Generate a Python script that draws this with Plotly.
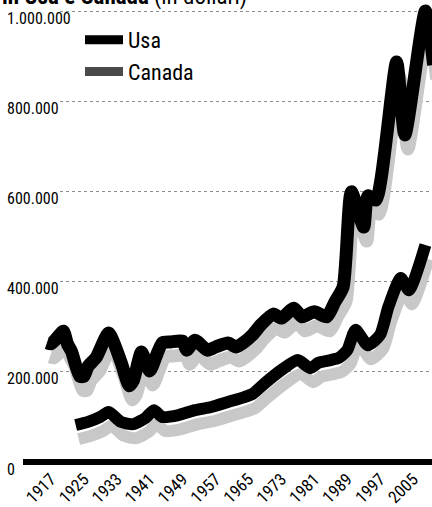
import plotly.graph_objects as go

# ---------------- data ----------------
usa_years = [1916, 1917, 1918, 1920, 1921, 1922, 1924, 1925, 1926, 1928, 1931, 1934,
             1936, 1937, 1939, 1941, 1944, 1946, 1949, 1950, 1952, 1955, 1957, 1960,
             1962, 1964, 1966, 1968, 1971, 1973, 1976, 1978, 1981, 1984, 1986, 1988,
             1990, 1993, 1994, 1996, 2001, 2003, 2008, 2010]
usa_values = [264000, 262000, 270000, 290000, 262000, 245000, 190000, 190000, 212000,
              232000, 286000, 222000, 169000, 180000, 244000, 202000, 264000, 266000,
              268000, 248000, 270000, 248000, 255000, 264000, 255000, 266000, 282000,
              304000, 328000, 319000, 341000, 322000, 333000, 322000, 355000, 388000,
              599000, 521000, 590000, 581000, 887000, 725000, 1000000, 880000]

canada_years = [1923, 1926, 1929, 1931, 1934, 1937, 1940, 1942, 1944, 1948, 1952, 1956,
                1960, 1964, 1966, 1969, 1973, 1977, 1980, 1982, 1985, 1987, 1989, 1991,
                1994, 1997, 1999, 2002, 2004, 2008]
canada_values = [82000, 89000, 100000, 111000, 89000, 84000, 98000, 115000, 100000,
                 104000, 115000, 122000, 133000, 144000, 151000, 175000, 204000, 226000,
                 208000, 220000, 226000, 231000, 248000, 293000, 259000, 282000, 344000,
                 408000, 381000, 481000]

series_names = ["Usa", "Canada"]
x_tick_years = [1917, 1925, 1933, 1941, 1949, 1957, 1965, 1973, 1981, 1989, 1997, 2005]
y_tick_values = [0, 200000, 400000, 600000, 800000, 1000000]
title_bold = "in Usa e Canada"
title_rest = "(in dollari)"

# ---------------- layout geometry / style ----------------
W, H = 432, 507
B = 45
PH = H - B
X_RANGE = [1910.2, 2009.6]
Y_RANGE = [0, 1e6 * PH / (PH - 11)]
PLOT_L = 23
GRID_L = 60
SH_DX, SH_DY = 3, 14
FONT = "Liberation Sans Narrow, Arial Narrow, Roboto Condensed, sans-serif"

px_x = (W - PLOT_L) / (X_RANGE[1] - X_RANGE[0])
px_y = PH / (Y_RANGE[1] - Y_RANGE[0])
shadow_x = [X_RANGE[0] - SH_DX / px_x, X_RANGE[1] - SH_DX / px_x]
shadow_y = [Y_RANGE[0] + SH_DY / px_y, Y_RANGE[1] + SH_DY / px_y]

fig = go.Figure()

# grid subplot (empty)
fig.add_trace(go.Scatter(x=[], y=[], xaxis="x", yaxis="y", showlegend=False,
                         hoverinfo="skip"))

# shadows
for yrs, vals, w in [(usa_years, usa_values, 13), (canada_years, canada_values, 12)]:
    fig.add_trace(go.Scatter(x=yrs, y=vals, xaxis="x2", yaxis="y2", mode="lines",
                             line=dict(color="#c8c8c8", width=w, shape="spline",
                                       smoothing=0.6),
                             showlegend=False, hoverinfo="skip"))

# main lines
for yrs, vals, w, name in [(usa_years, usa_values, 13, series_names[0]),
                           (canada_years, canada_values, 12, series_names[1])]:
    fig.add_trace(go.Scatter(x=yrs, y=vals, xaxis="x3", yaxis="y3", mode="lines",
                             name=name,
                             line=dict(color="#000000", width=w, shape="spline",
                                       smoothing=0.6),
                             showlegend=False))

# legend entries
for name, col in zip(series_names, ["#000000", "#4a4a4a"]):
    fig.add_trace(go.Scatter(x=[None], y=[None], xaxis="x3", yaxis="y3", mode="lines",
                             name=name, line=dict(color=col, width=9)))

fig.update_layout(
    width=W, height=H,
    margin=dict(l=0, r=0, t=0, b=B, pad=0),
    paper_bgcolor="white", plot_bgcolor="rgba(0,0,0,0)",
    separators=",.",
    font=dict(family=FONT, color="black", size=16),
    showlegend=True,
    legend=dict(x=80 / W, y=1 - 19 / PH, xanchor="left", yanchor="top",
                bgcolor="rgba(0,0,0,0)", font=dict(size=22, family=FONT),
                itemwidth=38, tracegroupgap=0),
    xaxis=dict(domain=[GRID_L / W, 1], range=X_RANGE, visible=False, anchor="y"),
    yaxis=dict(domain=[0, 1], anchor="x", range=Y_RANGE, tickvals=y_tick_values[1:],
               showticklabels=False, ticks="", showgrid=True, gridcolor="#8c8c8c",
               griddash="dot", gridwidth=1, zeroline=False, showline=False),
    xaxis2=dict(domain=[PLOT_L / W, 1], anchor="y2", range=shadow_x, visible=False),
    yaxis2=dict(domain=[0, 1], anchor="x2", range=shadow_y, visible=False),
    xaxis3=dict(overlaying="x2", anchor="y3", range=X_RANGE, tickvals=x_tick_years,
                tickangle=-45, ticks="", showgrid=False, zeroline=False, showline=False,
                ticklabelstandoff=3, tickfont=dict(size=17, family=FONT)),
    yaxis3=dict(overlaying="y2", anchor="free", position=0, side="right",
                range=Y_RANGE, tickvals=y_tick_values, tickformat=",d", ticks="",
                showgrid=False, zeroline=True, zerolinecolor="black", zerolinewidth=6,
                showline=False, ticklabelstandoff=6, ticklabelshift=7,
                ticklabeloverflow="allow",
                tickfont=dict(size=16, family=FONT)),
    annotations=[dict(text="<b>" + title_bold + "</b> " + title_rest,
                      xref="paper", yref="paper", x=0, y=1, xanchor="left",
                      yanchor="bottom", yshift=-12, showarrow=False,
                      font=dict(size=23, family=FONT, color="black"))],
)

fig.write_html("out.html")
